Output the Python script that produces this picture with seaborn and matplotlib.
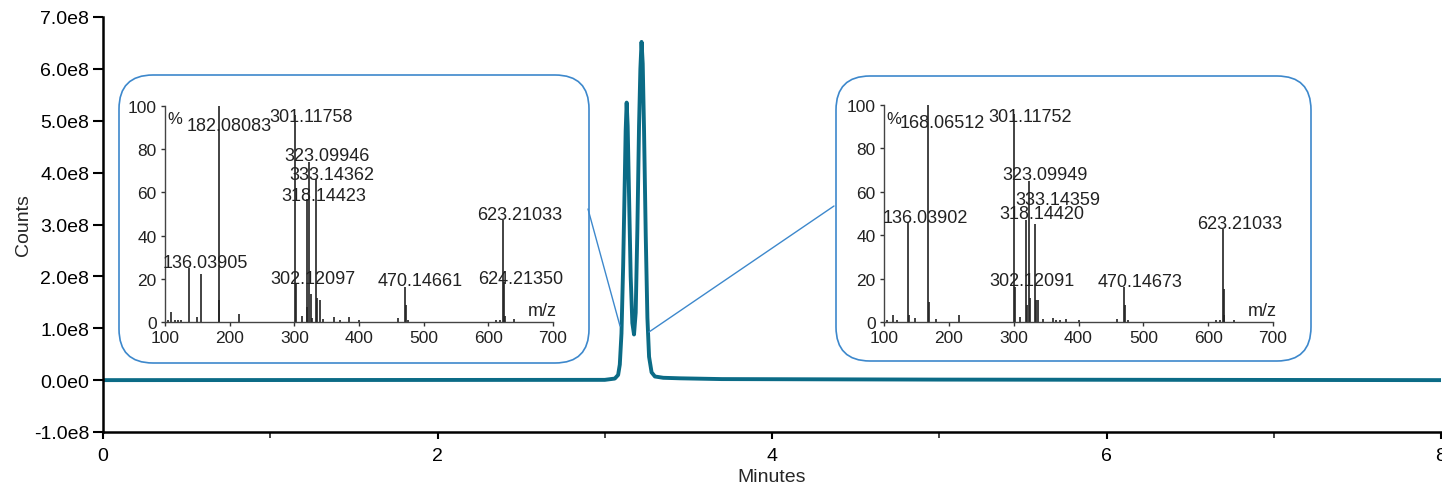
import matplotlib
matplotlib.use("Agg")
import matplotlib.pyplot as plt
from matplotlib.patches import FancyBboxPatch
from matplotlib.lines import Line2D
from matplotlib.transforms import IdentityTransform
import seaborn as sns
import pandas as pd

# chromatogram trace (minutes, counts)
minutes = [0.0, 3.00, 3.06, 3.08, 3.09, 3.10, 3.11, 3.12, 3.125, 3.131, 3.137, 3.145,
           3.155, 3.165, 3.175, 3.185, 3.195, 3.205, 3.213, 3.220, 3.227, 3.235,
           3.245, 3.255, 3.265, 3.28, 3.30, 3.35, 3.45, 3.7, 5.0, 8.0]
counts = [0.0, 0.005e8, 0.03e8, 0.1e8, 0.3e8, 0.9e8, 2.2e8, 3.9e8, 4.8e8, 5.35e8, 4.9e8, 3.6e8,
          2.0e8, 1.1e8, 0.88e8, 1.3e8, 2.9e8, 4.9e8, 6.0e8, 6.52e8, 6.1e8, 4.8e8,
          2.8e8, 1.2e8, 0.45e8, 0.15e8, 0.07e8, 0.045e8, 0.035e8, 0.02e8, 0.01e8, 0.0]
y_ticklabels = ["-1.0e8", "0.0e0", "1.0e8", "2.0e8", "3.0e8", "4.0e8", "5.0e8", "6.0e8", "7.0e8"]

# left spectrum (first peak)
mz_left = [105, 110, 115, 120, 125, 137, 149, 155, 183, 184, 214, 301, 302, 312, 319, 320,
           323, 325, 328, 333, 335, 339, 345, 361, 370, 385, 400, 460, 471, 472, 476,
           612, 618, 623, 624, 625, 640]
int_left = [1, 4.5, 1, 1, 1, 25, 2.5, 22, 100, 10, 3.5, 96, 18, 3, 57, 7,
            74, 13, 2, 66, 11, 10, 1.5, 2.5, 1, 2.5, 1, 2, 16, 8, 1,
            1, 1, 47, 18.5, 3, 1.5]
labels_left = ["182.08083", "301.11758", "323.09946", "333.14362", "318.14423",
               "623.21033", "136.03905", "302.12097", "470.14661", "624.21350"]
label_mz_left = [200, 326, 350, 358, 345, 649, 163, 329, 495, 650]
label_pct_left = [91, 95, 77, 68.5, 58.5, 50, 27.5, 20, 19, 20.3]

# right spectrum (second peak)
mz_right = [105, 114, 120, 137, 138, 148, 168, 169, 180, 215, 301, 302, 310, 319, 320,
            323, 325, 333, 335, 338, 345, 360, 365, 372, 380, 400, 460, 470, 471, 476,
            612, 618, 623, 624, 625, 640]
int_right = [1, 3, 1, 46, 3, 2, 100, 9, 1.5, 3, 96, 16, 2.5, 47, 8,
             65, 11, 45, 10, 10, 1.5, 2, 1, 1, 1.5, 1, 1.5, 16, 8, 1,
             1, 1, 43, 15, 3, 1]
labels_right = ["168.06512", "301.11752", "323.09949", "333.14359", "318.14420",
                "136.03902", "623.21033", "302.12091", "470.14673"]
label_mz_right = [190, 326, 349, 368, 344, 163, 649, 328, 495]
label_pct_right = [92, 94.8, 67.8, 56.4, 49.8, 48, 45.2, 19.2, 18.7]

line_color = "#0b6b86"
box_color = "#3d88cc"
inset_font = ["Liberation Sans", "DejaVu Sans"]

sns.set_theme(style="ticks")
plt.rcParams["font.family"] = ["Liberation Sans", "DejaVu Sans"]

W, H = 1442, 489
fig = plt.figure(figsize=(W / 100, H / 100), dpi=100)
ax = fig.add_axes([103 / W, 1 - 433 / H, (1441 - 103) / W, (433 - 18) / H])
ax.set_zorder(0)

df = pd.DataFrame({"Minutes": minutes, "Counts": counts})
sns.lineplot(data=df, x="Minutes", y="Counts", ax=ax, color=line_color, linewidth=2.8)

ax.set_xlim(0, 8)
ax.set_ylim(-1e8, 7e8)
ax.set_xticks([0, 2, 4, 6, 8])
ax.set_xticks([1, 3, 5, 7], minor=True)
ax.set_yticks([i * 1e8 for i in range(-1, 8)])
ax.set_yticklabels(y_ticklabels)
ax.tick_params(axis="y", which="major", direction="out", length=7, width=1.5,
               pad=3, labelsize=14, colors="black")
ax.tick_params(axis="x", which="major", direction="out", length=5, width=1.5,
               pad=6, labelsize=14, colors="black")
ax.tick_params(axis="x", which="minor", direction="out", length=4, width=1.2)
ax.set_xlabel("Minutes", fontsize=14, labelpad=3)
ax.set_ylabel("Counts", fontsize=14, labelpad=1)
for s in ["top", "right"]:
    ax.spines[s].set_visible(False)
for s in ["left", "bottom"]:
    ax.spines[s].set_linewidth(1.8)
    ax.spines[s].set_color("black")


def add_inset(box, axbox, mz, inten, labels, lmz, lpct):
    x0, y0, x1, y1 = box
    patch = FancyBboxPatch((x0, H - y1), x1 - x0, y1 - y0,
                           boxstyle="round,pad=0,rounding_size=34",
                           transform=IdentityTransform(), facecolor="white",
                           edgecolor=box_color, linewidth=1.2, zorder=1)
    fig.patches.append(patch)
    ax0, ay0, ax1, ay1 = axbox
    sub = fig.add_axes([ax0 / W, 1 - ay1 / H, (ax1 - ax0) / W, (ay1 - ay0) / H])
    sub.set_zorder(2)
    sub.set_facecolor("none")
    sub.vlines(mz, 0, inten, color="#222222", linewidth=1.2)
    sub.set_xlim(100, 700)
    sub.set_ylim(0, 100)
    sub.set_xticks(range(100, 701, 100))
    sub.set_yticks(range(0, 101, 20))
    sub.tick_params(direction="out", length=3, width=1, labelsize=12.5,
                    colors="#333333", labelcolor="#222222", pad=3)
    for s in ["top", "right"]:
        sub.spines[s].set_visible(False)
    for s in ["left", "bottom"]:
        sub.spines[s].set_color("#444444")
        sub.spines[s].set_linewidth(1.0)
    for lab, m, p in zip(labels, lmz, lpct):
        sub.text(m, p, lab, ha="center", va="center", fontsize=13,
                 family=inset_font, color="#222222")
    sub.text(115, 94, "%", ha="center", va="center", fontsize=12,
             family=inset_font, color="#222222")
    sub.text(683, 5.4, "m/z", ha="center", va="center", fontsize=13,
             family=inset_font, color="#222222")
    return sub


add_inset((119, 76, 589, 364), (165, 107, 553, 323), mz_left, int_left,
          labels_left, label_mz_left, label_pct_left)
add_inset((836, 77, 1311, 362), (884, 106, 1273, 323), mz_right, int_right,
          labels_right, label_mz_right, label_pct_right)

# connector lines from the insets to the peaks (figure pixels)
for (xa, ya), (xb, yb) in [((588, 210), (620, 327)), ((834, 207), (649, 333))]:
    fig.lines.append(Line2D([xa, xb], [H - ya, H - yb], transform=IdentityTransform(),
                            color=box_color, linewidth=1.0, zorder=3))

fig.savefig("out.png", dpi=100)
